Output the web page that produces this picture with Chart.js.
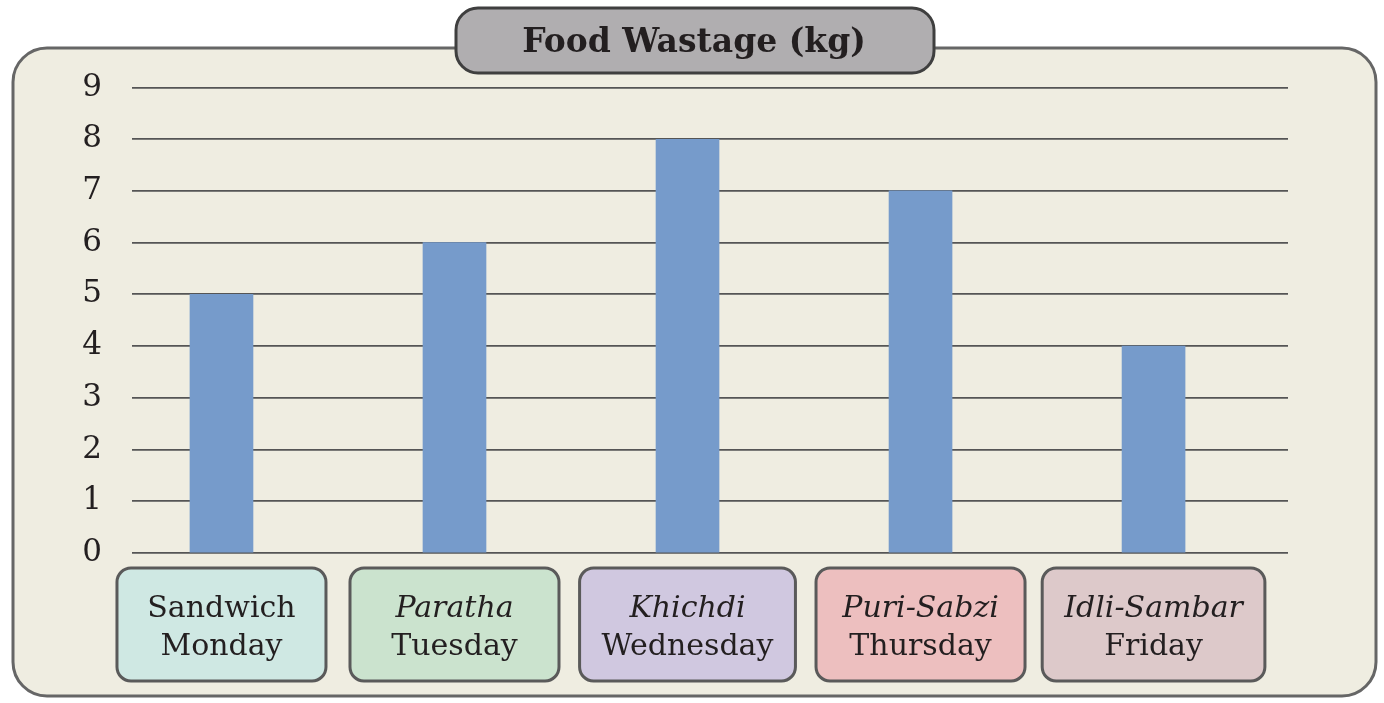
<!DOCTYPE html>
<html>
<head>
<meta charset="utf-8">
<script src="https://cdn.jsdelivr.net/npm/chart.js@4/dist/chart.umd.min.js"></script>
<style>
  body { margin: 0; background: #fff; }
  canvas { display: block; }
</style>
</head>
<body>
<canvas id="myChart" width="1384" height="703"></canvas>
<script>
// data
const foods = ['Sandwich', 'Paratha', 'Khichdi', 'Puri-Sabzi', 'Idli-Sambar'];
const days = ['Monday', 'Tuesday', 'Wednesday', 'Thursday', 'Friday'];
const wastage = [5, 6, 8, 7, 4];
const chartTitle = 'Food Wastage (kg)';

// styles
const boxColors = ['#cfe8e3', '#cbe3ce', '#d0c8e0', '#edbfbf', '#ddc9ca'];
const italicFood = [false, true, true, true, true];
const serif = '"DejaVu Serif"';

const roundRect = (ctx, x, y, w, h, r) => {
  ctx.beginPath();
  ctx.moveTo(x + r, y);
  ctx.lineTo(x + w - r, y);
  ctx.arcTo(x + w, y, x + w, y + r, r);
  ctx.lineTo(x + w, y + h - r);
  ctx.arcTo(x + w, y + h, x + w - r, y + h, r);
  ctx.lineTo(x + r, y + h);
  ctx.arcTo(x, y + h, x, y + h - r, r);
  ctx.lineTo(x, y + r);
  ctx.arcTo(x, y, x + r, y, r);
  ctx.closePath();
}

// outer panel + title tab
const framePlugin = {
  id: 'frame',
  beforeDraw(chart) {
    const ctx = chart.ctx;
    ctx.save();
    ctx.fillStyle = '#ffffff';
    ctx.fillRect(0, 0, chart.width, chart.height);

    roundRect(ctx, 13, 48, 1363, 648, 34);
    ctx.fillStyle = '#efede1';
    ctx.fill();
    ctx.lineWidth = 3;
    ctx.strokeStyle = '#666666';
    ctx.stroke();

    roundRect(ctx, 456, 8, 478, 65, 22);
    ctx.fillStyle = '#b0aeb0';
    ctx.fill();
    ctx.lineWidth = 3;
    ctx.strokeStyle = '#3f3f3f';
    ctx.stroke();

    ctx.fillStyle = '#231f20';
    ctx.font = 'bold 33px ' + serif;
    ctx.textAlign = 'center';
    ctx.textBaseline = 'alphabetic';
    ctx.fillText(chartTitle, 694, 52);
    ctx.restore();
  }
};

// coloured label boxes under the bars
const labelBoxes = {
  id: 'labelBoxes',
  afterDraw(chart) {
    const ctx = chart.ctx;
    const xScale = chart.scales.x;
    const bottom = chart.chartArea.bottom;
    ctx.save();
    foods.forEach((food, i) => {
      const cx = xScale.getPixelForValue(i + 1);
      const foodFont = (italicFood[i] ? 'italic ' : '') + '30px ' + serif;
      const dayFont = '30px ' + serif;
      ctx.font = foodFont;
      let w = ctx.measureText(food).width;
      ctx.font = dayFont;
      w = Math.max(w, ctx.measureText(days[i]).width);
      const bw = Math.max(209, w + 44);

      roundRect(ctx, cx - bw / 2, bottom + 15, bw, 113, 14);
      ctx.fillStyle = boxColors[i];
      ctx.fill();
      ctx.lineWidth = 3;
      ctx.strokeStyle = '#5a5a5a';
      ctx.stroke();

      ctx.fillStyle = '#231f20';
      ctx.textAlign = 'center';
      ctx.textBaseline = 'alphabetic';
      ctx.font = foodFont;
      ctx.fillText(food, cx, bottom + 64);
      ctx.font = dayFont;
      ctx.fillText(days[i], cx, bottom + 102);
    });
    ctx.restore();
  }
};

const ctx = document.getElementById('myChart');

new Chart(ctx, {
  type: 'bar',
  data: {
    datasets: [
      {
        label: chartTitle,
        data: wastage.map((v, i) => ({ x: i + 1, y: v })),
        backgroundColor: '#769bcb',
        borderWidth: 0,
        barThickness: 63,
      },
    ],
  },
  options: {
    responsive: false,
    animation: false,
    layout: {
      padding: { top: 87.5, right: 96, bottom: 150, left: 0 },
    },
    plugins: {
      legend: { display: false },
      tooltip: { enabled: false },
    },
    scales: {
      x: {
        type: 'linear',
        display: false,
        offset: false,
        bounds: 'ticks',
        min: 0.616,
        max: 5.577,
      },
      y: {
        min: 0,
        max: 9,
        ticks: {
          stepSize: 1,
          color: '#231f20',
          font: { family: 'DejaVu Serif', size: 31 },
          padding: 30,
        },
        grid: {
          color: '#555555',
          lineWidth: 1.8,
          drawTicks: false,
        },
        border: { display: false },
        afterFit: (scale) => { scale.width = 132; },
      },
    },
  },
  plugins: [framePlugin, labelBoxes],
});
</script>
</body>
</html>
